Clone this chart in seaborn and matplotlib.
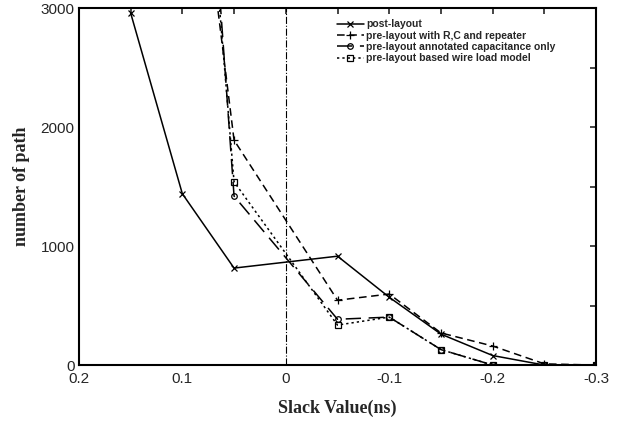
import numpy as np
import matplotlib
matplotlib.use("Agg")
import matplotlib.pyplot as plt
import pandas as pd
import seaborn as sns
from matplotlib.ticker import MultipleLocator

# slack values (ns) and number of paths
slack_post = [0.15, 0.1, 0.05, -0.05, -0.1, -0.15, -0.2, -0.25, -0.3]
post_layout = [2960, 1440, 815, 915, 570, 260, 80, 0, 0]

slack_pre = [0.1, 0.05, -0.05, -0.1, -0.15, -0.2, -0.25, -0.3]
pre_rc_rep = [5400, 1890, 545, 597, 270, 160, 10, 0]
pre_cap_only = [7500, 1420, 385, 403, 130, 0, 0, 0]
pre_wire_load = [6750, 1540, 336, 403, 130, 0, 0, 0]

labels = ["post-layout",
          "pre-layout with R,C and repeater",
          "pre-layout annotated capacitance only",
          "pre-layout based wire load model"]

sns.set_style("white")
plt.rcParams["font.family"] = ["Liberation Sans", "DejaVu Sans"]

fig, ax = plt.subplots(figsize=(6.21, 4.25), dpi=100)
fig.subplots_adjust(left=0.127, right=0.96, top=0.981, bottom=0.141)

series = [
    (slack_post, post_layout, labels[0], "-", "x", 5),
    (slack_pre, pre_rc_rep, labels[1], (0, (5, 3)), "+", 6),
    (slack_pre, pre_cap_only, labels[2], (0, (10, 5)), "o", 4),
    (slack_pre, pre_wire_load, labels[3], (0, (1.5, 2)), "s", 4),
]
for xs, ys, lab, ls, mk, ms in series:
    df = pd.DataFrame({"slack": xs, "paths": ys})
    sns.lineplot(data=df, x="slack", y="paths", ax=ax, color="black",
                 linestyle=ls, marker=mk, markersize=ms, linewidth=1.1,
                 markerfacecolor="none", markeredgecolor="black",
                 markeredgewidth=0.9, label=lab, sort=False)

ax.axvline(0, color="black", linewidth=0.8, linestyle="-.")

ax.set_xlim(0.2, -0.3)
ax.set_ylim(0, 3000)
ax.xaxis.set_major_locator(MultipleLocator(0.1))
ax.xaxis.set_minor_locator(MultipleLocator(0.05))
ax.yaxis.set_major_locator(MultipleLocator(1000))
ax.yaxis.set_minor_locator(MultipleLocator(500))
ax.set_xticks([0.2, 0.1, 0, -0.1, -0.2, -0.3])
ax.set_xticklabels(["0.2", "0.1", "0", "-0.1", "-0.2", "-0.3"])
ax.tick_params(which="both", direction="in", top=True, right=True,
               length=4, width=1.2, labelsize=11, pad=5)
ax.tick_params(axis="y", pad=3)

for sp in ax.spines.values():
    sp.set_linewidth(1.5)
    sp.set_color("black")

ax.set_xlabel("Slack Value(ns)", fontsize=13, fontweight="bold",
              family="Liberation Serif", labelpad=10)
ax.set_ylabel("number of path", fontsize=13, fontweight="bold",
              family="Liberation Serif", labelpad=8)

leg = ax.legend(loc="upper right", bbox_to_anchor=(0.922, 0.968), frameon=False,
                prop={"size": 7.5, "weight": "bold"}, handlelength=2.6,
                labelspacing=0.12, handletextpad=0.25, borderpad=0,
                borderaxespad=0)

plt.savefig("out.png", dpi=100)
